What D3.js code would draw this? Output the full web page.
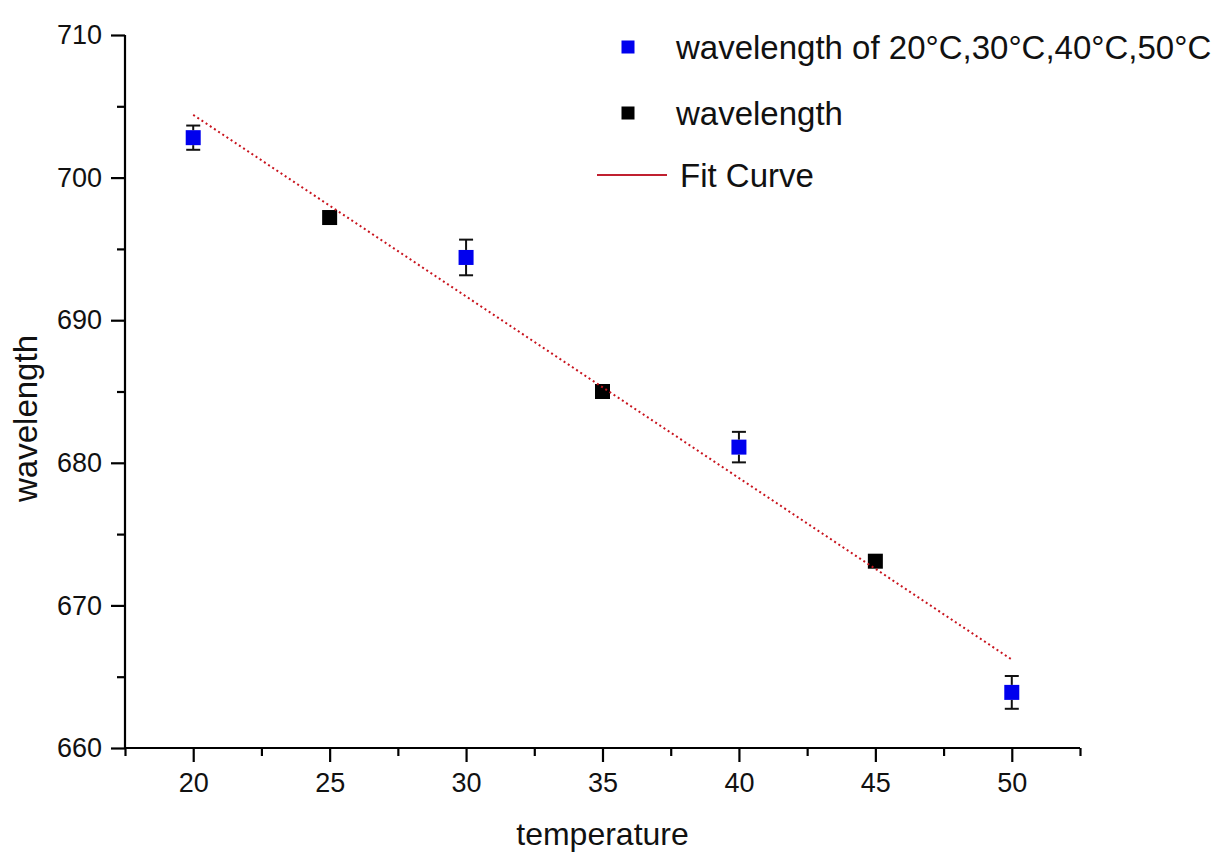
<!DOCTYPE html>
<html>
<head>
<meta charset="utf-8">
<script src="https://cdn.jsdelivr.net/npm/d3@7"></script>
<style>
    body { margin: 0; background: #ffffff; }
    svg  { display: block; font-family: "Liberation Sans", Arial, sans-serif; }
</style>
</head>
<body>
<svg id="wave_plot" width="1221" height="865"></svg>
<script>
// values
const blueTemps        = [20, 30, 40, 50];
const blueWavelengths  = [702.8, 694.4, 681.1, 663.9];
const blueErrors       = [0.85, 1.25, 1.07, 1.15];

const blackTemps       = [25, 35, 45];
const blackWavelengths = [697.2, 685.0, 673.1];

const fitTemps         = [20, 50];
const fitWavelengths   = [704.4, 666.2];

const xMajorTicks = [20, 25, 30, 35, 40, 45, 50];
const xMinorTicks = [17.5, 22.5, 27.5, 32.5, 37.5, 42.5, 47.5, 52.5];
const yMajorTicks = [660, 670, 680, 690, 700, 710];
const yMinorTicks = [665, 675, 685, 695, 705];

const legendLabels = ["wavelength of 20\u00B0C,30\u00B0C,40\u00B0C,50\u00B0C", "wavelength", "Fit Curve"];

const xAxisLabel = "temperature";
const yAxisLabel = "wavelength";

// the following code is used to draw our graph
var target_svg    = d3.select("#wave_plot");
var target_width  = +target_svg.attr("width");
var target_height = +target_svg.attr("height");

var margin = { top    : 35,
               bottom : 117,
               left   : 125,
               right  : 141};

var innerWidth  = target_width  - margin.left - margin.right;
var innerHeight = target_height - margin.top  - margin.bottom;

const chart = target_svg.append("g")
    .attr("transform", `translate(${margin.left},${margin.top})`);

const xScale = d3.scaleLinear()
    .domain([17.5, 52.5])
    .range([0, innerWidth]);

const yScale = d3.scaleLinear()
    .domain([660, 710])
    .range([innerHeight, 0]);

// here we are rendering the axes (major + minor ticks, outward)
const axisX = chart.append("g")
    .attr("transform", `translate(0,${innerHeight})`)
    .call(d3.axisBottom(xScale).tickValues(xMajorTicks).tickSize(14).tickPadding(11).tickFormat(d3.format("d")));
chart.append("g")
    .attr("transform", `translate(0,${innerHeight})`)
    .call(d3.axisBottom(xScale).tickValues(xMinorTicks).tickSize(8).tickFormat(""))
    .select(".domain").remove();

const axisY = chart.append("g")
    .call(d3.axisLeft(yScale).tickValues(yMajorTicks).tickSize(14).tickPadding(9).tickFormat(d3.format("d")));
chart.append("g")
    .call(d3.axisLeft(yScale).tickValues(yMinorTicks).tickSize(8).tickFormat(""))
    .select(".domain").remove();

chart.selectAll("g").attr("font-family", null);
chart.selectAll(".domain, .tick line")
    .attr("stroke", "#000")
    .attr("stroke-width", 2.2);
chart.selectAll(".tick text")
    .attr("fill", "#111")
    .attr("font-size", 27);
axisX.selectAll(".domain").attr("d", `M0,0H${innerWidth}`);
axisY.selectAll(".domain").attr("d", `M0,${innerHeight}V0`);

chart.append("text")
    .attr("x", innerWidth / 2)
    .attr("y", innerHeight + 97)
    .attr("text-anchor", "middle")
    .attr("font-size", 32)
    .attr("fill", "#111")
    .text(xAxisLabel);

chart.append("text")
    .attr("transform", "rotate(-90)")
    .attr("x", -(innerHeight / 2) - 27)
    .attr("y", -88)
    .attr("text-anchor", "middle")
    .attr("font-size", 33)
    .attr("fill", "#111")
    .text(yAxisLabel);

// here we are rendering the markers
const markerSize = 15;

chart.selectAll(".black_pt").data(blackTemps)
    .enter().append("rect")
    .attr("class", "black_pt")
    .attr("x", (d) => xScale(d) - markerSize / 2)
    .attr("y", (d, i) => yScale(blackWavelengths[i]) - markerSize / 2)
    .attr("width",  markerSize)
    .attr("height", markerSize)
    .attr("fill", "#000");

chart.selectAll(".blue_pt").data(blueTemps)
    .enter().append("rect")
    .attr("class", "blue_pt")
    .attr("x", (d) => xScale(d) - markerSize / 2)
    .attr("y", (d, i) => yScale(blueWavelengths[i]) - markerSize / 2)
    .attr("width",  markerSize)
    .attr("height", markerSize)
    .attr("fill", "#0000ee");

// here we are rendering the error bars of the blue series
const capHalf = 7;
const errorBars = chart.selectAll(".err").data(blueTemps)
    .enter().append("g")
    .attr("class", "err")
    .attr("stroke", "#111")
    .attr("stroke-width", 2);

errorBars.append("line")
    .attr("x1", (d) => xScale(d))
    .attr("x2", (d) => xScale(d))
    .attr("y1", (d, i) => yScale(blueWavelengths[i] + blueErrors[i]))
    .attr("y2", (d, i) => yScale(blueWavelengths[i] + blueErrors[i]) + Math.max(0, yScale(blueWavelengths[i]) - markerSize / 2 - yScale(blueWavelengths[i] + blueErrors[i])));
errorBars.append("line")
    .attr("x1", (d) => xScale(d))
    .attr("x2", (d) => xScale(d))
    .attr("y1", (d, i) => yScale(blueWavelengths[i]) + markerSize / 2)
    .attr("y2", (d, i) => yScale(blueWavelengths[i] - blueErrors[i]));
errorBars.append("line")
    .attr("x1", (d) => xScale(d) - capHalf)
    .attr("x2", (d) => xScale(d) + capHalf)
    .attr("y1", (d, i) => yScale(blueWavelengths[i] + blueErrors[i]))
    .attr("y2", (d, i) => yScale(blueWavelengths[i] + blueErrors[i]));
errorBars.append("line")
    .attr("x1", (d) => xScale(d) - capHalf)
    .attr("x2", (d) => xScale(d) + capHalf)
    .attr("y1", (d, i) => yScale(blueWavelengths[i] - blueErrors[i]))
    .attr("y2", (d, i) => yScale(blueWavelengths[i] - blueErrors[i]));

// here we are rendering the fit line (drawn over the markers)
const fitLine = d3.line()
    .x((d) => xScale(d))
    .y((d, i) => yScale(fitWavelengths[i]));

chart.append("path")
    .datum(fitTemps)
    .attr("d", fitLine)
    .attr("fill", "none")
    .attr("stroke", "#c8141e")
    .attr("stroke-width", 2)
    .attr("stroke-dasharray", "2,3");

// the following code is used to draw the legend
const legend = target_svg.append("g")
    .attr("transform", "translate(597,0)");
const rowY = [47, 113, 175];
const legendSize = 13;

legend.append("rect")
    .attr("x", 31 - legendSize / 2).attr("y", rowY[0] - legendSize / 2)
    .attr("width", legendSize).attr("height", legendSize)
    .attr("fill", "#0000ee");
legend.append("rect")
    .attr("x", 31 - legendSize / 2).attr("y", rowY[1] - legendSize / 2)
    .attr("width", legendSize).attr("height", legendSize)
    .attr("fill", "#000");
legend.append("line")
    .attr("x1", 0).attr("x2", 70)
    .attr("y1", rowY[2]).attr("y2", rowY[2])
    .attr("stroke", "#c02030")
    .attr("stroke-width", 2);

legend.selectAll(".legend_label").data(legendLabels)
    .enter().append("text")
    .attr("class", "legend_label")
    .attr("x", (d, i) => i < 2 ? 79 : 83)
    .attr("y", (d, i) => rowY[i] + 12)
    .attr("font-size", 33)
    .attr("fill", "#111")
    .text((d) => d);
</script>
</body>
</html>
